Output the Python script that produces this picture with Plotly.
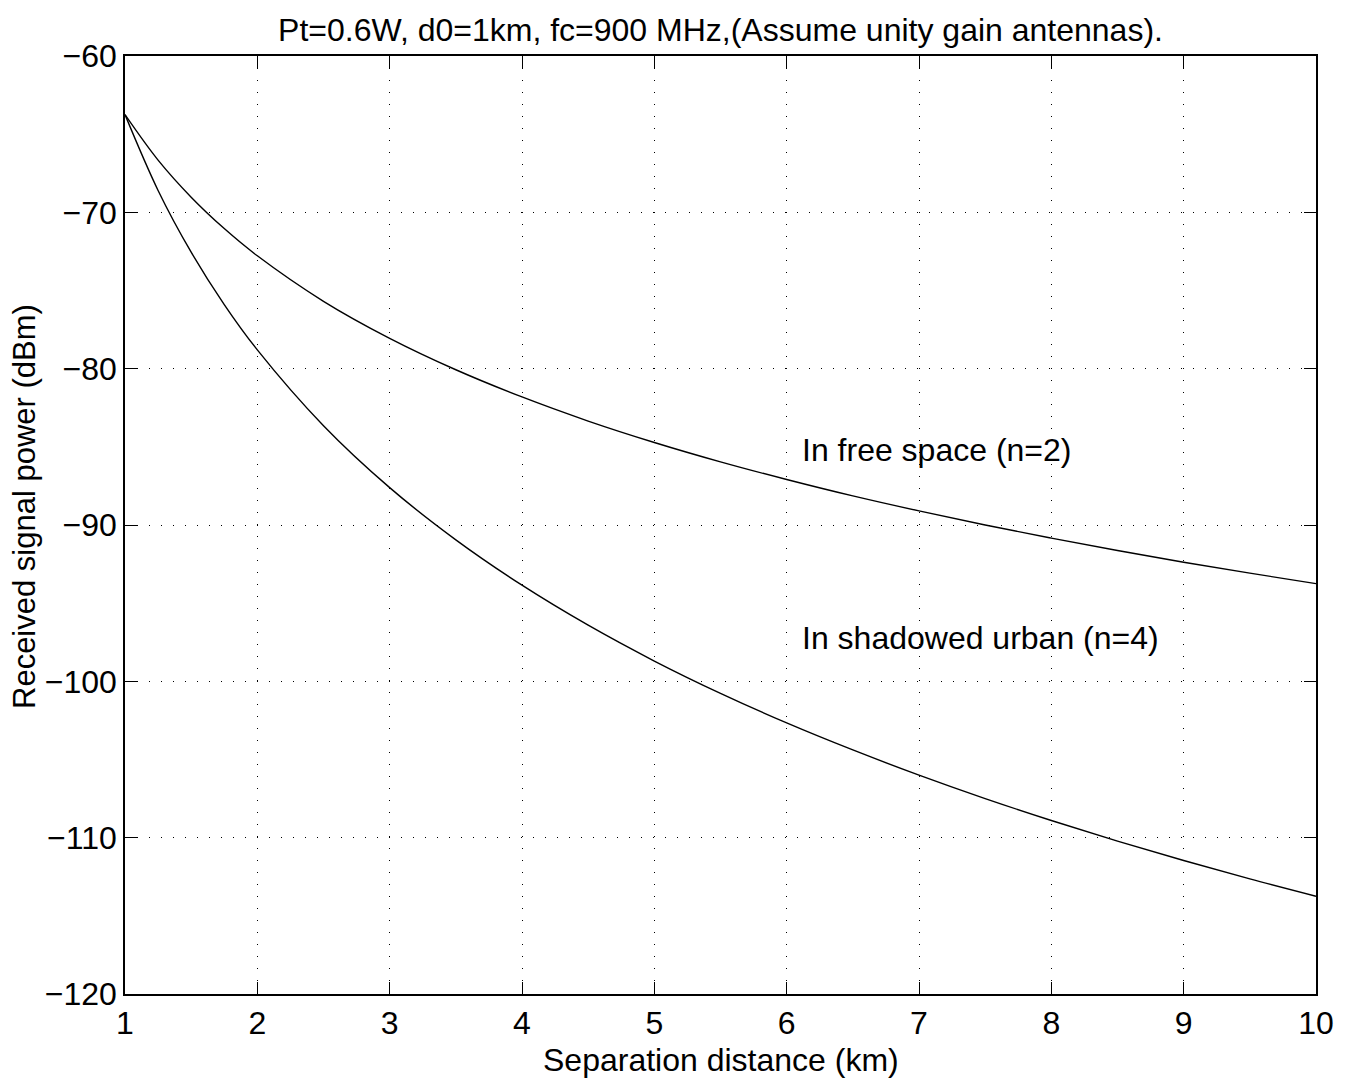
import plotly.graph_objects as go

# Separation distance (km) and received power (dBm) for the two environments
distance_km = [1.0, 1.25, 1.5, 1.75, 2.0, 2.5, 3.0, 3.5, 4.0, 4.5, 5.0, 5.5,
               6.0, 6.5, 7.0, 7.5, 8.0, 8.5, 9.0, 9.5, 10.0]
free_space_dbm = [-63.75, -66.66, -69.03, -71.04, -72.78, -75.69, -78.06, -80.07,
                  -81.81, -83.35, -84.72, -85.96, -87.09, -88.14, -89.10, -90.00,
                  -90.84, -91.63, -92.38, -93.08, -93.75]
urban_dbm = [-63.75, -68.60, -72.55, -75.90, -78.80, -83.65, -87.61, -90.95,
             -93.85, -96.41, -98.70, -100.77, -102.66, -104.39, -106.00,
             -107.50, -108.90, -110.22, -111.46, -112.64, -113.75]

x_ticks = [1, 2, 3, 4, 5, 6, 7, 8, 9, 10]
y_ticks = [-120, -110, -100, -90, -80, -70, -60]

title_text = "Pt=0.6W, d0=1km, fc=900 MHz,(Assume unity gain antennas)."
x_label = "Separation distance (km)"
y_label = "Received signal power (dBm)"
curve_labels = ["In free space (n=2)", "In shadowed urban (n=4)"]
label_pos = [(6.1, -85.2), (6.1, -97.2)]

FONT = "Liberation Sans, Arial, Helvetica, sans-serif"

fig = go.Figure()
for ys, name in [(free_space_dbm, curve_labels[0]), (urban_dbm, curve_labels[1])]:
    fig.add_trace(go.Scatter(
        x=distance_km, y=ys, mode="lines", name=name,
        line=dict(color="black", width=1.4, shape="spline", smoothing=1.0),
        showlegend=False, hoverinfo="x+y",
    ))

for text, (xv, yv) in zip(curve_labels, label_pos):
    fig.add_annotation(x=xv, y=yv, text=text, showarrow=False,
                       xanchor="left", yanchor="middle",
                       font=dict(family=FONT, size=32, color="black"))

# axis titles placed as paper-anchored annotations for exact offsets
fig.add_annotation(x=0.5, y=0, xref="paper", yref="paper", yshift=-66,
                   text=x_label, showarrow=False, xanchor="center", yanchor="middle",
                   font=dict(family=FONT, size=32, color="black"))
fig.add_annotation(x=0, y=0.5, xref="paper", yref="paper", xshift=-101, yshift=18,
                   text=y_label, showarrow=False, textangle=-90,
                   xanchor="center", yanchor="middle",
                   font=dict(family=FONT, size=31, color="black"))

axis_common = dict(
    showline=True, linecolor="black", linewidth=1.6, mirror="ticks",
    ticks="inside", ticklen=12, tickwidth=1.3, tickcolor="black",
    showgrid=True, gridcolor="black", gridwidth=1, griddash="1px,11px",
    zeroline=False,
    tickfont=dict(family=FONT, size=32, color="black"),
)

fig.update_xaxes(range=[1, 10], tickvals=x_ticks,
                 ticktext=[str(v) for v in x_ticks], **axis_common)
fig.update_yaxes(range=[-120, -60], tickvals=y_ticks, **axis_common)

fig.update_layout(
    width=1346, height=1078,
    margin=dict(l=125, r=30, t=56, b=84),
    paper_bgcolor="white", plot_bgcolor="white",
    title=dict(text=title_text, x=(125 + 1316) / 2 / 1346, xanchor="center",
               y=1 - 30 / 1078, yanchor="middle", yref="container",
               font=dict(family=FONT, size=32, color="black")),
)

fig.write_html("out.html")
